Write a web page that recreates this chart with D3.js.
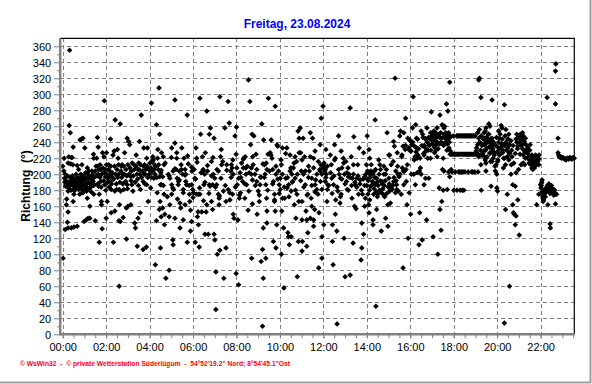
<!DOCTYPE html>
<html><head><meta charset="utf-8">
<script src="https://cdn.jsdelivr.net/npm/d3@7"></script>
<style>html,body{margin:0;padding:0;background:#fff;}svg{display:block;}</style>
</head><body><svg id="c" width="592" height="384"></svg>
<script>
const title = "Freitag, 23.08.2024";
const yLabel = "Richtung  (°)";
const footer = "© WsWin32  -  © private Wetterstation Süderlügum  -  54°52'19.2\" Nord; 8°54'45.1\"Ost";
const xTickMinutes = [0,120,240,360,480,600,720,840,960,1080,1200,1320];
const xTickLabels = ["00:00","02:00","04:00","06:00","08:00","10:00","12:00","14:00","16:00","18:00","20:00","22:00"];
const yTickValues = [0,20,40,60,80,100,120,140,160,180,200,220,240,260,280,300,320,340,360];

// [minute of day, direction in degrees]
const obs0004 = [[1,95],[0,210],[4,220],[3,204],[7,200],[9,187],[10,162],[11,169],[15,179],[15,214],[17,222],[13,140],[15,153],[7,131],[15,133],[18,261],[19,355],[21,252],[24,221],[22,213],[24,195],[26,187],[28,191],[29,181],[29,234],[31,175],[29,166],[35,191],[33,185],[38,195],[24,133],[31,134],[40,135],[26,221],[28,212],[39,187],[42,193],[44,181],[46,191],[50,200],[48,243],[52,244],[40,211],[44,206],[47,175],[52,185],[54,191],[56,245],[57,197],[59,141],[56,177],[53,212],[61,233],[63,202],[64,187],[66,179],[68,170],[70,195],[72,204],[65,143],[70,145],[75,160],[75,145],[68,208],[61,193],[77,195],[79,178],[81,204],[84,191],[85,225],[86,175],[88,187],[90,204],[90,142],[83,200],[86,220],[96,246],[98,234],[94,220],[96,210],[98,200],[99,185],[101,175],[103,212],[105,191],[107,166],[107,162],[101,115],[105,206],[109,132],[115,292],[110,227],[114,203],[116,187],[118,197],[120,145],[121,227],[123,166],[121,212],[125,195],[114,222],[132,244],[127,212],[130,204],[132,191],[134,181],[134,152],[139,224],[140,115],[142,229],[144,154],[136,197],[144,179],[145,268],[151,231],[153,220],[155,200],[156,181],[157,162],[159,263],[156,60],[155,142],[159,141],[149,181],[160,179],[162,210],[164,212],[167,200],[169,181],[167,146],[171,227],[176,158],[176,119],[178,245],[180,212],[174,191],[178,187],[182,241],[185,237],[180,160],[188,162],[188,197],[190,204],[191,187],[194,179],[197,212],[199,139],[201,133],[203,224],[206,110],[208,145],[208,206],[210,214],[213,200],[214,152],[215,181],[217,274],[212,241],[222,106],[224,233],[226,212],[228,200],[231,109],[232,220],[234,233],[236,166],[232,187],[222,191],[245,289],[243,183],[245,204],[247,216],[249,222],[254,212],[256,87],[259,262],[259,142],[252,195],[266,308],[268,250],[263,231],[265,212],[268,197],[270,187],[267,156],[270,108],[269,166],[272,147],[261,177]];
const band0004 = [[5,195],[6,190],[8,185],[10,192],[12,198],[13,188],[16,183],[18,190],[20,196],[21,186],[23,180],[25,192],[27,198],[30,186],[32,194],[34,180],[36,188],[37,200],[41,184],[43,196],[45,188],[47,182],[49,194],[51,190],[53,180],[55,198],[57,186],[58,192],[60,182],[62,196],[65,188],[67,184],[69,200],[71,190],[73,182],[74,196],[76,188],[78,184],[80,198],[82,192],[85,186],[87,196],[92,210],[95,198],[97,188],[100,206],[103,196],[106,184],[108,200],[111,208],[113,192],[117,206],[119,180],[122,200],[124,190],[126,206],[128,184],[131,198],[133,210],[135,188],[137,202],[141,194],[143,210],[146,200],[148,188],[150,206],[152,196],[154,212],[158,190],[161,204],[163,196],[166,188],[168,210],[170,200],[172,190],[175,206],[177,198],[179,182],[183,200],[186,208],[189,192],[192,214],[195,198],[198,206],[200,190],[202,210],[205,200],[207,194],[209,186],[211,206],[215,212],[218,196],[220,204],[223,210],[225,200],[227,188],[229,206],[233,210],[235,196],[237,206],[239,200],[241,214],[244,208],[246,196],[248,204],[250,218],[253,206],[255,200],[257,210],[260,196],[262,220],[264,206]];
const obs0409 = [[273,227],[278,222],[280,212],[271,202],[276,197],[273,187],[280,175],[276,158],[282,150],[281,137],[285,70],[294,80],[292,200],[296,195],[301,233],[301,187],[304,183],[305,204],[310,293],[310,239],[294,147],[304,118],[305,112],[310,145],[301,175],[296,162],[313,206],[315,227],[316,195],[319,187],[322,204],[324,164],[326,158],[324,133],[329,233],[320,191],[315,220],[328,206],[331,200],[333,181],[333,143],[335,220],[338,206],[340,191],[342,187],[338,162],[344,115],[340,200],[344,274],[347,213],[350,175],[351,166],[353,155],[353,129],[356,187],[357,204],[359,181],[356,141],[361,177],[363,206],[365,195],[366,115],[368,233],[370,175],[372,147],[374,153],[375,175],[377,109],[379,295],[379,175],[375,137],[370,220],[381,250],[384,153],[386,222],[388,206],[390,187],[392,200],[393,125],[396,153],[398,279],[398,162],[388,204],[394,227],[400,204],[402,125],[405,250],[405,187],[407,185],[408,258],[411,166],[411,216],[414,156],[418,245],[416,200],[414,187],[418,125],[420,118],[423,31],[425,187],[427,100],[430,175],[432,170],[434,297],[432,162],[434,105],[423,78],[430,204],[420,195],[436,222],[438,231],[439,212],[444,179],[445,70],[448,258],[451,108],[453,212],[451,166],[457,291],[457,181],[460,264],[462,168],[464,204],[466,212],[469,175],[471,150],[471,200],[468,208],[473,145],[476,248],[479,225],[479,76],[480,259],[482,187],[484,143],[486,62],[488,170],[490,202],[486,195],[491,177],[494,214],[497,191],[499,208],[500,220],[504,222],[506,200],[508,187],[506,208],[503,170],[512,155],[513,318],[515,202],[517,291],[519,237],[521,208],[522,95],[523,250],[524,193],[524,163],[526,212],[528,248],[531,200],[534,225],[536,191],[537,150],[540,179],[543,166],[545,187],[547,197],[548,91],[550,263],[552,106],[554,133],[554,70],[552,10]];
const band0409 = [[272,205],[278,186],[283,214],[289,172],[294,198],[300,221],[306,181],[310,207],[317,169],[322,193],[327,212],[333,177],[338,199],[345,223],[349,186],[356,209],[360,171],[367,194],[371,215],[378,183],[382,202],[389,167],[393,190],[400,211],[404,176],[411,198],[415,221],[422,184],[426,206],[433,173],[437,195],[442,216],[449,186],[453,205],[461,177],[465,196],[470,218],[477,184],[481,208],[488,174],[492,196],[499,219],[503,188],[510,210],[514,179],[521,200],[525,222],[532,186],[536,206],[543,174],[547,196],[553,213]];
const obs0914 = [[555,243],[557,212],[559,200],[561,187],[563,170],[564,154],[564,139],[561,95],[568,295],[567,225],[564,206],[573,227],[576,243],[578,220],[580,206],[582,191],[585,175],[587,285],[587,154],[589,200],[591,137],[589,108],[585,166],[582,116],[592,237],[594,235],[596,204],[598,187],[601,181],[604,212],[604,100],[605,154],[607,233],[611,58],[610,133],[607,170],[601,195],[613,170],[616,195],[619,233],[620,183],[622,127],[624,122],[626,112],[628,224],[628,204],[631,179],[631,122],[624,187],[633,200],[635,191],[637,208],[640,162],[642,222],[644,145],[647,175],[648,72],[646,216],[650,254],[651,116],[642,195],[653,245],[656,258],[657,227],[659,204],[661,166],[661,143],[661,104],[662,116],[664,245],[665,200],[653,227],[668,222],[670,187],[672,154],[674,143],[674,110],[677,175],[679,210],[681,204],[684,252],[684,145],[677,127],[686,170],[688,160],[690,245],[693,143],[693,220],[696,156],[697,229],[697,187],[699,193],[693,135],[688,195],[702,181],[705,175],[707,83],[708,152],[711,237],[712,191],[714,270],[716,181],[716,122],[716,95],[711,204],[719,285],[720,212],[723,208],[725,206],[727,231],[728,200],[730,166],[731,181],[732,187],[721,137],[725,191],[739,224],[742,212],[743,195],[745,137],[745,116],[747,87],[748,187],[751,237],[751,218],[753,150],[754,168],[757,129],[758,13],[760,179],[762,248],[764,200],[766,164],[769,229],[769,175],[771,208],[767,195],[775,220],[777,120],[778,200],[780,72],[782,216],[784,191],[786,181],[788,208],[789,197],[794,74],[791,200],[794,283],[797,222],[799,170],[800,195],[802,114],[804,247],[806,160],[808,187],[803,212],[810,157],[812,195],[815,212],[817,175],[819,233],[822,193],[824,93],[826,139],[826,108],[828,175],[831,125],[831,227],[834,197],[836,170]];
const band0914 = [[557,196],[562,214],[566,180],[571,204],[575,224],[580,188],[585,168],[589,210],[594,194],[598,176],[603,218],[607,200],[612,184],[616,226],[621,196],[625,172],[630,208],[634,190],[639,214],[643,180],[648,200],[652,166],[657,192],[661,218],[666,184],[670,204],[675,174],[679,196],[684,222],[688,186],[693,208],[697,178],[702,200],[706,216],[710,206],[713,212],[716,200],[719,208],[722,214],[724,204],[727,196],[731,210],[735,186],[740,202],[744,176],[749,198],[753,220],[758,184],[762,206],[767,172],[771,194],[776,214],[780,188],[785,202],[789,180],[794,196],[798,186],[803,200],[807,190],[812,184],[816,198],[821,188],[825,180],[830,194],[834,186]];
const obs1418 = [[834,160],[839,212],[839,195],[841,248],[843,175],[845,162],[846,231],[846,152],[848,200],[848,220],[850,185],[848,168],[852,212],[855,191],[857,143],[857,137],[859,175],[861,204],[863,268],[864,187],[865,35],[867,195],[869,172],[867,156],[864,206],[870,175],[873,218],[874,200],[876,212],[878,206],[880,129],[881,177],[883,191],[885,175],[887,200],[887,210],[889,172],[892,200],[892,145],[894,206],[896,252],[898,135],[898,162],[901,224],[901,195],[903,224],[905,164],[903,179],[907,212],[909,185],[910,181],[913,216],[914,241],[914,191],[916,235],[918,320],[919,177],[920,204],[922,187],[924,227],[922,181],[926,200],[927,179],[929,197],[931,248],[933,254],[935,175],[937,224],[938,208],[940,83],[942,252],[942,187],[940,235],[944,204],[946,231],[947,270],[948,206],[949,191],[951,162],[953,245],[954,120],[956,233],[957,177],[959,243],[961,241],[961,150],[962,229],[964,237],[966,258],[968,297],[970,200],[972,235],[973,222],[974,187],[975,262],[977,233],[979,202],[979,220],[977,245],[981,224],[984,112],[985,204],[986,152],[988,208],[990,200],[993,118],[994,250],[996,235],[998,224],[998,187],[990,254],[1000,245],[1002,195],[1005,143],[1006,258],[1008,220],[1011,195],[1014,237],[1016,252],[1016,220],[1018,278],[1020,243],[1023,122],[1023,250],[1025,254],[1027,227],[1029,250],[1032,237],[1034,222],[1034,258],[1036,100],[1038,250],[1040,183],[1042,274],[1042,156],[1043,245],[1045,130],[1047,166],[1048,262],[1049,206],[1051,220],[1053,204],[1053,258],[1055,260],[1056,245],[1058,252],[1060,288],[1062,238],[1062,181],[1064,279],[1065,250],[1067,233],[1069,197],[1069,315],[1071,229],[1051,180]];
const band1418 = [[837,200],[840,186],[842,204],[844,192],[847,180],[849,196],[851,204],[853,186],[856,200],[858,190],[860,182],[862,196],[866,178],[868,190],[871,186],[875,180],[877,192],[882,188],[884,182],[888,186],[891,192],[895,176],[899,184],[902,188],[906,184],[911,186],[915,196],[921,192],[925,210],[932,200],[936,222],[941,204],[947,236],[952,212],[958,230],[963,200],[967,240],[971,218],[976,228],[980,244],[983,232],[987,220],[992,236],[995,246],[997,226],[999,236],[1001,228],[1003,244],[1004,232],[1007,240],[1009,230],[1010,246],[1012,236],[1015,244],[1017,230],[1019,248],[1021,238],[1024,246],[1026,234],[1028,242],[1030,252],[1031,230],[1033,246],[1035,240],[1037,232],[1039,248],[1041,238],[1044,252],[1046,240],[1050,246],[1052,236],[1054,250],[1057,240],[1059,248],[1061,230],[1063,244],[1066,252],[1068,240],[1070,246]];
const rows1819 = [[1070,248],[1079,248],[1088,248],[1091,248],[1094,248],[1097,248],[1100,248],[1103,248],[1106,248],[1109,248],[1112,248],[1115,248],[1118,248],[1121,248],[1124,248],[1127,248],[1130,248],[1133,248],[1136,248],[1139,248],[1070,225],[1073,225],[1076,225],[1079,225],[1082,225],[1085,225],[1088,225],[1091,225],[1094,225],[1097,225],[1100,225],[1103,225],[1106,225],[1109,225],[1112,225],[1115,225],[1118,225],[1121,225],[1124,225],[1127,225],[1130,225],[1133,225],[1136,225],[1139,225],[1142,225],[1145,225],[1148,225],[1066,203],[1075,203],[1084,203],[1093,203],[1097,203],[1102,203],[1106,203],[1111,203],[1120,203],[1129,203],[1132,203],[1138,203],[1147,203],[1080,180],[1089,180],[1098,180],[1104,180],[1108,180],[1156,180],[1073,206]];
const obs1824 = [[1149,318],[1151,320],[1155,296],[1146,252],[1149,245],[1151,256],[1146,237],[1143,233],[1142,229],[1149,222],[1155,212],[1158,224],[1160,237],[1160,245],[1165,245],[1167,254],[1169,258],[1171,245],[1165,237],[1162,229],[1165,222],[1167,218],[1169,214],[1171,233],[1171,241],[1177,263],[1180,260],[1169,204],[1177,250],[1178,241],[1180,227],[1182,216],[1183,185],[1183,233],[1186,293],[1186,245],[1188,241],[1188,229],[1189,220],[1189,237],[1192,227],[1195,204],[1197,212],[1199,200],[1199,183],[1201,179],[1201,216],[1204,254],[1206,224],[1206,245],[1204,233],[1211,261],[1213,258],[1213,235],[1215,227],[1217,208],[1220,287],[1220,220],[1223,156],[1224,239],[1224,256],[1223,212],[1228,175],[1229,233],[1232,250],[1232,218],[1234,227],[1234,60],[1220,14],[1235,237],[1238,200],[1239,212],[1243,187],[1243,162],[1241,222],[1245,152],[1247,150],[1250,137],[1252,148],[1250,185],[1252,202],[1254,250],[1257,168],[1257,235],[1259,206],[1261,245],[1263,225],[1261,124],[1266,212],[1266,245],[1270,252],[1272,248],[1275,241],[1278,245],[1272,214],[1278,229],[1280,237],[1269,213],[1276,212],[1281,229],[1284,233],[1287,222],[1289,218],[1291,214],[1293,212],[1296,220],[1298,216],[1296,208],[1298,206],[1291,237],[1303,222],[1305,216],[1307,222],[1309,220],[1312,218],[1315,219],[1303,208],[1307,212],[1309,162],[1315,175],[1320,187],[1322,189],[1324,193],[1326,172],[1327,170],[1329,175],[1331,177],[1333,181],[1335,183],[1333,179],[1327,166],[1338,296],[1340,162],[1339,179],[1342,181],[1344,183],[1346,138],[1347,133],[1349,179],[1351,181],[1353,180],[1355,179],[1357,181],[1359,177],[1361,175],[1361,163],[1361,329],[1362,338],[1361,288],[1364,175],[1368,245],[1368,227],[1370,224],[1373,222],[1376,222],[1379,221],[1385,220],[1390,218],[1395,220],[1399,220],[1404,220],[1408,220],[1413,220]];
const band1824 = [[1152,240],[1154,230],[1156,248],[1158,236],[1160,226],[1162,244],[1164,252],[1166,238],[1168,230],[1170,246],[1172,222],[1174,240],[1176,250],[1178,234],[1180,226],[1182,244],[1184,238],[1186,216],[1188,232],[1190,240],[1192,224],[1194,210],[1196,236],[1198,246],[1200,228],[1202,218],[1204,240],[1206,232],[1208,250],[1210,226],[1212,238],[1214,244],[1216,230],[1218,220],[1220,236],[1222,248],[1224,240],[1226,230],[1228,222],[1230,244],[1232,236],[1234,226],[1238,242],[1240,230],[1244,236],[1246,214],[1250,226],[1252,244],[1254,240],[1256,232],[1258,246],[1262,240],[1264,250],[1266,236],[1268,244],[1270,232],[1272,224],[1274,238],[1276,228],[1278,220],[1284,226],[1286,220],[1288,214],[1290,230],[1292,218],[1294,212],[1296,224],[1298,216],[1300,222],[1301,210],[1303,220],[1304,214],[1306,224],[1307,218],[1309,212],[1310,222],[1312,216],[1313,220],[1315,212],[1316,224],[1321,183],[1322,186],[1323,190],[1324,178],[1326,174],[1327,170],[1328,168],[1330,176],[1331,180],[1333,172],[1335,178],[1337,182],[1339,186],[1341,184],[1343,188],[1344,180],[1346,176],[1348,184],[1350,186],[1352,182],[1354,178],[1356,174],[1358,180],[1360,176],[1372,222],[1374,221],[1378,220],[1381,221],[1383,220],[1387,219],[1392,220],[1397,219],[1401,221],[1406,219],[1410,221]];

const allObs = [].concat(obs0004, band0004, obs0409, band0409, obs0914, band0914, obs1418, band1418, rows1819, obs1824, band1824);

const svg = d3.select("#c");
const fontFam = "'Liberation Sans', Arial, sans-serif";
const x = d3.scaleLinear().domain([0, 1413]).range([62.7, 574.3]);
const y = d3.scaleLinear().domain([0, 370]).range([334.3, 38.3]);
const x0 = 60.2, x1 = x(1413), yTop = y(370), yBot = y(0);

// outer frame (3D edge)
svg.append("line").attr("x1",590.5).attr("x2",590.5).attr("y1",0).attr("y2",383).attr("stroke","#a0a0a0").attr("stroke-width",2);
svg.append("line").attr("x1",0).attr("x2",591).attr("y1",382.5).attr("y2",382.5).attr("stroke","#a0a0a0").attr("stroke-width",2);

// grid
const grid = svg.append("g").attr("stroke","#808080").attr("stroke-width",1).attr("stroke-dasharray","4,3").attr("shape-rendering","crispEdges");
grid.selectAll("line.h").data(yTickValues.filter(v => v > 0)).join("line")
  .attr("x1", x0).attr("x2", x1).attr("y1", d => Math.round(y(d)) + 0.5).attr("y2", d => Math.round(y(d)) + 0.5);
grid.selectAll("line.v").data(xTickMinutes).join("line")
  .attr("y1", yTop).attr("y2", yBot).attr("x1", d => Math.round(x(d)) + 0.5).attr("x2", d => Math.round(x(d)) + 0.5);

// points
const r = 2.8;
svg.append("g").selectAll("path").data(allObs).join("path")
  .attr("d", d => { const cx = x(d[0]), cy = y(d[1]); return `M${cx},${cy - r}L${cx + r},${cy}L${cx},${cy + r}L${cx - r},${cy}Z`; })
  .attr("fill", "#000");

// plot border top/right
svg.append("line").attr("x1",x0).attr("x2",x1+0.5).attr("y1",yTop).attr("y2",yTop).attr("stroke","#000").attr("stroke-width",1.2);
svg.append("line").attr("x1",x1).attr("x2",x1).attr("y1",yTop).attr("y2",yBot).attr("stroke","#000").attr("stroke-width",1.2);

// axes
const yAxis = d3.axisLeft(y).tickValues(yTickValues).tickSize(6).tickPadding(3);
const gy = svg.append("g").attr("transform", `translate(${x0},0)`).call(yAxis);
gy.select(".domain").remove();
gy.selectAll(".tick line").attr("stroke","#808080");
gy.selectAll(".tick text").attr("font-family", fontFam).attr("font-size", 11).attr("fill","#000").attr("dy","0.35em");
const yMinor = d3.axisLeft(y).tickValues(yTickValues.slice(0, -1).map(v => v + 10)).tickSize(3).tickFormat("");
const gym = svg.append("g").attr("transform", `translate(${x0},0)`).call(yMinor);
gym.select(".domain").remove();
gym.selectAll(".tick line").attr("stroke","#808080");

const xMinor = d3.axisBottom(x).tickValues(d3.range(0, 1413, 30)).tickSize(4).tickFormat("");
const gxm = svg.append("g").attr("transform", `translate(0,${yBot})`).call(xMinor);
gxm.select(".domain").remove();
gxm.selectAll(".tick line").attr("stroke","#808080");
const xAxis = d3.axisBottom(x).tickValues(xTickMinutes).tickFormat((d, i) => xTickLabels[i]).tickSize(4).tickPadding(5);
const gx = svg.append("g").attr("transform", `translate(0,${yBot})`).call(xAxis);
gx.select(".domain").remove();
gx.selectAll(".tick line").attr("stroke","#808080");
gx.selectAll(".tick text").attr("font-family", fontFam).attr("font-size", 11).attr("fill","#000");

// thick gray axis lines
svg.append("line").attr("x1",x0).attr("x2",x0).attr("y1",yTop).attr("y2",yBot+1).attr("stroke","#808080").attr("stroke-width",2.5);
svg.append("line").attr("x1",x0-1).attr("x2",x1+0.6).attr("y1",yBot).attr("y2",yBot).attr("stroke","#808080").attr("stroke-width",2.5);

// texts
svg.append("text").attr("x",297).attr("y",28).attr("text-anchor","middle")
  .attr("font-family",fontFam).attr("font-size",12).attr("font-weight","bold").attr("fill","#0000ff").text(title);
svg.append("text").attr("transform","translate(30,186) rotate(-90)").attr("text-anchor","middle")
  .attr("font-family",fontFam).attr("font-size",12).attr("font-weight","bold").attr("fill","#000")
  .style("white-space","pre").text(yLabel);
svg.append("text").attr("x",20).attr("y",366).attr("font-family",fontFam).attr("font-size",7.5).attr("font-weight","bold")
  .attr("fill","#ff0000").attr("textLength",270).attr("lengthAdjust","spacingAndGlyphs")
  .style("white-space","pre").text(footer);
</script></body></html>
